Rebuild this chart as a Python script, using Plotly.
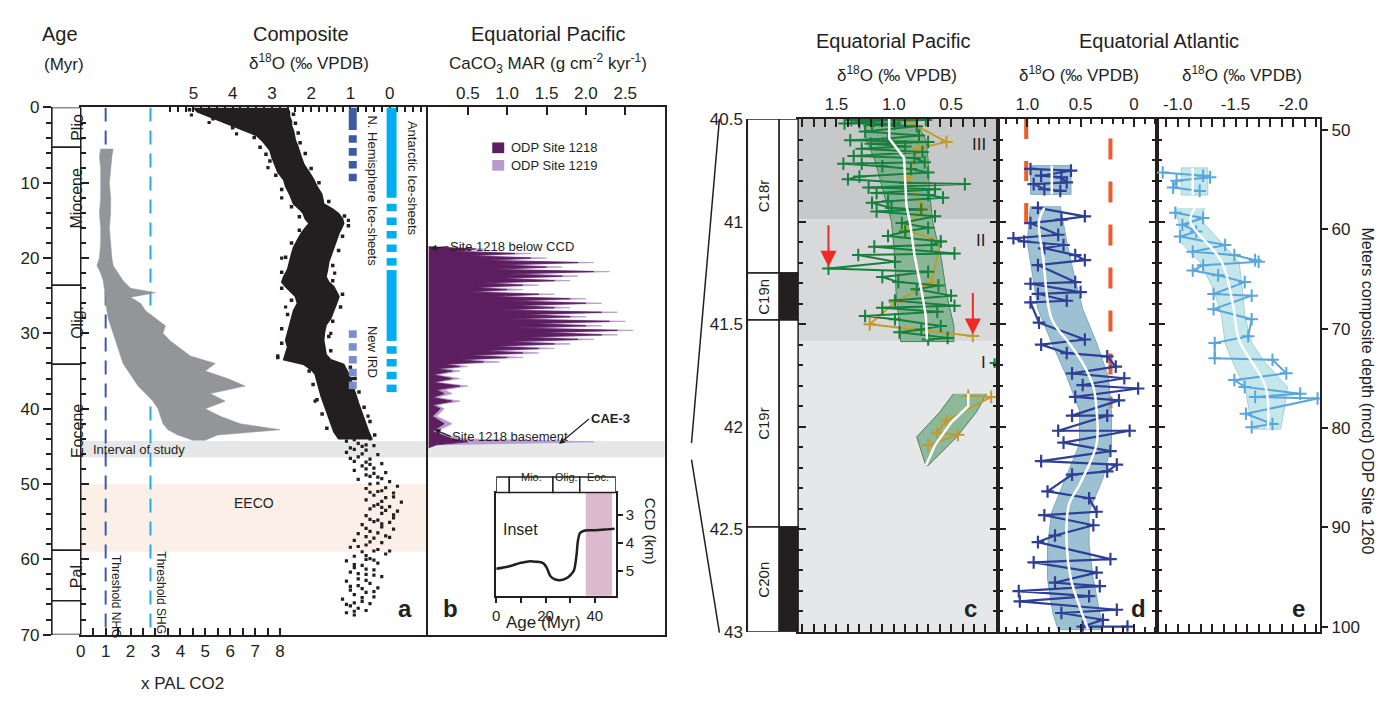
import plotly.graph_objects as go

W, H = 1368, 693       # figure size (page body adds an 8 px margin)
OX, OY = 8, 8
FONT = "Arial, Liberation Sans, Helvetica, sans-serif"
INK = "#231f20"

# ======================= DATA =======================
# Geological epochs (Myr)
epoch_edges = [0.0, 5.3, 23.6, 34.1, 58.8, 65.5, 70.0]
epoch_names = ["Plio", "Miocene", "Olig.", "Eocene", "Pal.", ""]
epoch_label_age = [2.6, 12.0, 28.5, 43.0, 62.0, 67.7]

# Composite benthic d18O: bounds of the dense data cloud (per mil)
d18o_age = [0, 0.6, 1.2, 1.8, 2.4, 3.1, 3.7, 4.4, 5.0, 5.7,
            6.6, 7.6, 8.6, 9.6, 10.5, 11.5, 12.2, 12.8, 13.5, 14.1,
            14.8, 15.4, 16.0, 16.7, 17.6, 18.6, 19.5, 20.5, 21.5, 22.5,
            23.2, 23.8, 24.5, 25.1, 26.0, 27.0, 28.0, 28.9, 29.9, 30.9,
            31.8, 32.8, 33.5, 34.1, 34.8, 35.4, 36.4, 37.3, 38.3, 39.3,
            40.2, 41.2, 42.1, 43.1, 44.0]
d18o_heavy = [5.0, 4.9, 4.6, 4.3, 4.0, 3.7, 3.4, 3.25, 3.15, 3.05,
              3.0, 2.92, 2.85, 2.7, 2.65, 2.55, 2.5, 2.45, 2.3, 2.2,
              2.15, 2.05, 2.15, 2.25, 2.35, 2.45, 2.5, 2.55, 2.6, 2.7,
              2.75, 2.65, 2.5, 2.4, 2.35, 2.45, 2.5, 2.55, 2.6, 2.65,
              2.6, 2.65, 2.7, 2.2, 2.0, 1.9, 1.85, 1.8, 1.75, 1.68,
              1.62, 1.55, 1.5, 1.42, 1.3]
d18o_light = [2.6, 2.55, 2.55, 2.5, 2.5, 2.45, 2.42, 2.4, 2.35, 2.3,
              2.25, 2.18, 2.05, 1.93, 1.85, 1.73, 1.7, 1.68, 1.45, 1.3,
              1.2, 1.17, 1.22, 1.29, 1.35, 1.42, 1.48, 1.55, 1.58, 1.62,
              1.55, 1.42, 1.35, 1.29, 1.35, 1.42, 1.5, 1.62, 1.66, 1.68,
              1.65, 1.62, 1.5, 1.17, 1.1, 1.04, 0.98, 0.91, 0.85, 0.79,
              0.74, 0.66, 0.6, 0.53, 0.45]
# scattered points along the fuzzy edges of the cloud
d18o_edge_age = [0.3, 1.5, 2.7, 4.0, 5.3, 6.2, 7.1, 9.0, 10.9, 13.2,
                 14.5, 16.3, 18.0, 19.9, 21.9, 24.0, 25.6, 27.5, 29.4, 31.3,
                 33.2, 35.0, 36.8, 38.8, 40.7, 42.6,
                 0.9, 2.1, 3.4, 4.7, 6.1, 8.1, 10.0, 12.5, 14.4, 15.7,
                 17.1, 19.0, 21.0, 23.0, 24.8, 26.5, 28.4, 30.4, 32.3, 34.5,
                 36.0, 37.8, 39.8, 41.7, 43.5]
d18o_edge_val = [5.1, 4.5, 4.0, 3.45, 3.3, 3.15, 3.05, 2.9, 2.75, 2.5,
                 2.3, 2.3, 2.5, 2.65, 2.75, 2.75, 2.5, 2.6, 2.75, 2.75,
                 2.85, 2.05, 1.95, 1.85, 1.72, 1.6,
                 2.45, 2.4, 2.33, 2.28, 2.15, 2.0, 1.8, 1.55, 1.15, 1.05,
                 1.2, 1.3, 1.45, 1.45, 1.2, 1.25, 1.45, 1.55, 1.5, 1.0,
                 0.88, 0.78, 0.65, 0.5, 0.38]
# individual composite points (outliers and the sparser Eocene-Paleocene part)
d18o_pts_age = [1.0, 2.0, 3.5, 8.0, 12.0, 15.0, 20.0, 22.0, 26.5, 30.0,
                33.0, 36.0, 39.0, 41.0,
                42.2, 42.5, 42.8, 43.1, 43.4, 43.7, 44.0, 44.3, 44.6, 44.9,
                45.2, 45.5, 45.8, 46.1, 46.4, 46.7, 47.0, 47.3, 47.6, 47.9,
                48.2, 48.5, 48.8, 49.1, 49.4, 49.7, 50.0, 50.3, 50.6, 50.9,
                51.2, 51.5, 51.8, 52.1, 52.4, 52.7, 53.0, 53.3, 53.6, 53.9,
                54.2, 54.5, 54.8, 55.1, 55.4, 55.7, 56.0, 56.3, 56.6, 56.9,
                57.2, 57.5, 57.8, 58.1, 58.4, 58.7, 59.0, 59.3, 59.6, 59.9,
                60.2, 60.5, 60.8, 61.1, 61.4, 61.7, 62.0, 62.3, 62.6, 62.9,
                63.2, 63.5, 63.8, 64.1, 64.4, 64.7, 65.0, 65.3, 65.6, 65.9,
                66.2, 66.5, 66.8, 67.1, 67.4,
                43.0, 45.0, 47.1, 49.0, 51.0, 53.1, 55.0, 57.0, 58.9, 60.0,
                61.9, 63.9, 65.8,
                44.1, 44.8, 45.4, 46.0, 46.6, 47.4, 48.0, 48.6, 49.3, 49.9,
                50.5, 51.1, 51.7, 52.3, 52.9, 53.5, 54.1, 54.7, 55.3, 55.9,
                56.5, 57.1, 57.7, 58.3, 58.9, 59.5, 60.1, 60.7, 61.3, 62.1,
                62.8, 63.6, 64.3, 65.1, 66.0, 66.9]
d18o_pts_val = [5.05, 4.6, 3.9, 3.1, 2.75, 1.05, 2.75, 1.4, 2.65, 1.5,
                2.85, 0.95, 1.9, 0.55,
                1.2, 0.7, 1.0, 0.6, 1.3, 0.9, 0.5, 1.1, 0.8, 0.4,
                1.0, 0.6, 1.1, 0.3, 0.8, 0.5, 0.9, 0.2, 0.7, 0.4,
                0.9, 0.1, 0.6, 0.3, 0.8, 0.0, 0.5, -0.2, 0.6, 0.2,
                -0.1, 0.4, 0.1, 0.6, -0.3, 0.3, 0.0, 0.5, -0.2, 0.2,
                0.6, -0.1, 0.3, 0.0, 0.7, 0.2, -0.1, 0.5, 0.8, 0.1,
                0.4, 0.9, 0.2, 0.6, 1.0, 0.3, 0.7, 0.1, 0.9, 0.5,
                1.1, 0.3, 0.7, 0.9, 0.4, 1.0, 0.6, 0.2, 0.8, 1.1,
                0.5, 0.8, 0.3, 1.0, 0.6, 0.9, 0.4, 1.2, 0.7, 0.5,
                1.0, 0.8, 0.6, 1.1, 0.9,
                0.9, 0.7, 0.6, 0.5, 0.3, 0.2, 0.4, 0.6, 0.4, 0.6,
                0.8, 0.7, 0.9,
                0.9, 0.6, 0.9, 0.7, 1.0, 0.5, 0.6, 0.4, 0.2, 0.3,
                0.1, 0.5, -0.1, 0.2, 0.4, 0.1, -0.1, 0.5, 0.2, 0.6,
                0.3, 0.0, 0.5, 0.8, 0.0, 0.6, 0.4, 0.9, 0.6, 0.4,
                0.6, 1.0, 0.4, 0.7, 1.1, 0.9]

# Atmospheric CO2 (x PAL) envelope
co2_age = [5.5, 6.5, 8, 10, 12, 14, 16, 18, 20, 21,
           22, 23, 24, 24.6, 25.2, 26, 27, 28, 29, 30,
           31, 32, 33, 34, 35, 36, 37, 38, 39, 40,
           41, 42, 42.8, 43.5, 44.2]
co2_low = [0.8, 0.75, 0.8, 0.8, 0.8, 0.75, 0.8, 0.8, 0.75, 0.65,
           0.8, 0.9, 0.95, 1.0, 1.0, 1.0, 1.05, 1.1, 1.2, 1.3,
           1.4, 1.5, 1.6, 1.7, 1.9, 2.1, 2.3, 2.6, 2.9, 3.1,
           3.2, 3.3, 3.5, 3.9, 4.5]
co2_high = [1.3, 1.25, 1.2, 1.15, 1.2, 1.2, 1.15, 1.2, 1.25, 1.3,
            1.5, 1.7, 2.0, 3.0, 2.0, 2.4, 2.6, 3.0, 3.4, 3.3,
            3.6, 4.0, 4.4, 5.4, 5.0, 5.9, 6.6, 5.2, 5.8, 5.0,
            5.6, 6.4, 8.0, 5.5, 5.0]
nhg_threshold = 1.0
shg_threshold = 2.8

# Ice-sheet bars (Myr)
nhg_segments = [(0.0, 3.0), (3.7, 4.7), (5.4, 6.4), (7.1, 8.1), (8.8, 9.8)]
ird_segments = [(29.6, 30.6), (31.3, 32.3), (33.0, 34.0), (34.7, 35.7), (36.4, 37.4)]
ant_segments = [(0.0, 12.0), (12.8, 13.8), (14.6, 15.6), (16.4, 17.4), (18.2, 19.2),
                (20.0, 21.0), (21.6, 31.0), (31.7, 32.7), (33.4, 34.4), (35.1, 36.1),
                (36.8, 37.8)]

study_band = (44.3, 46.5)
eeco_band = (50.0, 59.0)

# Panel b: CaCO3 MAR (g cm-2 kyr-1)
mar_age = [18.5, 18.8, 19.1, 19.4, 19.7, 20.0, 20.3, 20.6, 20.9, 21.2,
           21.5, 21.8, 22.1, 22.4, 22.7, 23.0, 23.3, 23.6, 23.9, 24.2,
           24.5, 24.8, 25.1, 25.4, 25.7, 26.0, 26.3, 26.6, 26.9, 27.2,
           27.5, 27.8, 28.1, 28.4, 28.7, 29.0, 29.3, 29.6, 29.9, 30.2,
           30.5, 30.8, 31.1, 31.4, 31.7, 32.0, 32.3, 32.6, 32.9, 33.2,
           33.5, 33.8, 34.1, 34.4, 34.7, 35.0, 35.5, 36.0, 36.5, 37.0,
           37.5, 38.0, 38.5, 39.0, 39.5, 40.0, 41.0, 42.0, 43.0, 44.0,
           44.4, 44.8, 45.2]
site1218_mar = [0.0, 0.6, 0.3, 1.1, 0.5, 1.3, 0.7, 1.9, 0.9, 1.5,
                0.8, 2.1, 1.0, 1.7, 0.9, 1.6, 0.7, 1.2, 0.6, 1.0,
                0.5, 1.4, 0.8, 1.8, 1.0, 2.0, 1.1, 1.6, 0.9, 2.2,
                1.2, 1.8, 1.0, 2.3, 1.3, 2.0, 1.1, 2.4, 1.4, 2.2,
                1.2, 1.9, 1.0, 1.6, 0.8, 1.4, 0.7, 1.2, 0.5, 1.0,
                0.4, 0.7, 0.2, 0.4, 0.1, 0.3, 0.05, 0.3, 0.05, 0.4,
                0.1, 0.2, 0.05, 0.3, 0.05, 0.15, 0.05, 0.2, 0.05, 0.3,
                0.5, 0.1, 0.0]
site1219_mar = [0.0, 0.7, 0.4, 1.3, 0.6, 1.5, 0.8, 2.1, 1.0, 1.7,
                0.9, 2.3, 1.2, 1.9, 1.0, 1.8, 0.8, 1.4, 0.7, 1.2,
                0.6, 1.6, 0.9, 2.0, 1.2, 2.2, 1.3, 1.8, 1.0, 2.4,
                1.4, 2.0, 1.2, 2.5, 1.5, 2.2, 1.3, 2.6, 1.6, 2.4,
                1.4, 2.1, 1.2, 1.8, 1.0, 1.6, 0.9, 1.4, 0.7, 1.2,
                0.5, 0.9, 0.3, 0.5, 0.2, 0.4, 0.1, 0.4, 0.1, 0.5,
                0.2, 0.3, 0.1, 0.4, 0.1, 0.2, 0.1, 0.3, 0.1, 0.4,
                2.1, 0.1, 0.0]

# Inset: CCD (km) vs age
ccd_age = [0, 5, 10, 13, 16, 19, 20.5, 22, 24, 27, 29, 30.5, 31.5, 32.5, 33.2, 34, 36, 40, 45, 48]
ccd_km = [4.93, 4.85, 4.72, 4.67, 4.68, 4.73, 4.9, 5.2, 5.32, 5.33, 5.25, 5.12, 5.0, 4.5, 3.9, 3.65, 3.56, 3.55, 3.52, 3.5]
inset_epoch_edges = [0, 5.3, 23.0, 33.9, 48.5]
inset_epoch_names = ["", "Mio.", "Olig.", "Eoc."]
inset_pink = (36.3, 47.0)

# Magnetochrons and zones (Myr)
chron_edges = [40.5, 41.25, 41.48, 42.49, 43.0]
chron_names = ["C18r", "C19n", "C19r", "C20n"]
chron_normal = [False, True, False, True]
zone_edges = [40.5, 40.99, 41.585, 43.0]
zone_names = ["III", "II", "I"]

# Panel c: Equatorial Pacific d18O
c_green_age = [40.501, 40.504, 40.504, 40.508, 40.515, 40.521, 40.521, 40.529, 40.535, 40.560,
               40.580, 40.595, 40.603, 40.611, 40.620, 40.633, 40.644, 40.660, 40.680, 40.690,
               40.710, 40.718, 40.718, 40.730, 40.743, 40.760, 40.780, 40.793, 40.810, 40.817,
               40.834, 40.842, 40.860, 40.870, 40.883, 40.900, 40.908, 40.933, 40.941, 40.950,
               40.974, 41.007, 41.030, 41.048, 41.070, 41.097, 41.114, 41.122, 41.155, 41.163,
               41.196, 41.229, 41.245, 41.270, 41.295, 41.311, 41.330, 41.361, 41.385, 41.410,
               41.420, 41.440, 41.460, 41.476, 41.509, 41.526, 41.540, 41.567, 41.575]
c_green_d18o = [0.96, 1.37, 0.72, 1.17, 1.30, 1.43, 0.99, 1.19, 0.80, 1.25,
                0.78, 1.05, 1.38, 0.70, 1.20, 0.90, 1.28, 0.75, 1.35, 0.82,
                0.73, 1.28, 1.44, 1.10, 0.85, 0.70, 1.30, 1.40, 0.90, 0.38,
                1.22, 0.64, 1.15, 0.70, 0.57, 1.05, 1.19, 1.02, 0.76, 1.15,
                0.64, 0.93, 0.70, 0.90, 1.05, 0.59, 0.67, 1.17, 0.47, 1.31,
                0.99, 1.57, 0.70, 1.10, 0.96, 0.61, 0.80, 0.50, 0.99, 0.47,
                1.10, 0.62, 1.25, 0.99, 0.59, 0.76, 0.95, 0.53, 0.70]
c_green_iso_age = [41.69]
c_green_iso_d18o = [0.12]
c_gold_age = [40.504, 40.611, 40.644, 40.784, 40.933, 41.040, 41.097, 41.295, 41.394, 41.501, 41.558,
              None, 41.850, 41.855, 41.970, 42.030, 42.040, 42.090]
c_gold_d18o = [0.90, 0.54, 0.79, 0.88, 0.75, 0.90, 0.59, 0.67, 0.99, 1.21, 0.31,
               None, 0.35, 0.15, 0.54, 0.62, 0.44, 0.70]
c_band_age = [40.50, 40.60, 40.70, 40.85, 41.00, 41.18, 41.35, 41.51, 41.585]
c_band_left = [1.27, 1.24, 1.165, 1.09, 1.02, 0.99, 0.98, 0.95, 0.94]
c_band_right = [0.82, 0.72, 0.70, 0.69, 0.66, 0.585, 0.54, 0.475, 0.475]
c_band2_age = [41.84, 41.93, 42.05, 42.19]
c_band2_left = [0.48, 0.60, 0.80, 0.72]
c_band2_right = [0.19, 0.28, 0.45, 0.70]
c_mean_age = [40.50, 40.595, 40.69, 40.92, 41.00, 41.16, 41.33, 41.46, 41.575]
c_mean_d18o = [1.04, 1.04, 0.91, 0.89, 0.86, 0.82, 0.76, 0.72, 0.71]
c_mean2_age = [41.84, 41.90, 41.98, 42.09, 42.19]
c_mean2_d18o = [0.35, 0.35, 0.50, 0.64, 0.72]
c_arrow_ages = [41.23, 41.56]
c_arrow_d18o = [1.57, 0.31]

# Panel d: Equatorial Atlantic benthic d18O
d_age = [40.743, 40.751, 40.776, 40.784, 40.809, 40.817, 40.842, 40.850, None,
         40.933, 40.974, 40.990, 41.007, 41.064, 41.081, 41.097, 41.114, 41.130, 41.163,
         41.188, 41.212, 41.295, 41.303, 41.344, 41.352, 41.386, 41.394, 41.493, 41.575,
         41.600, 41.641, 41.657, 41.707, 41.740, 41.764, 41.797, 41.814, 41.855, 41.872,
         41.946, 41.946, 42.020, 42.020, 42.078, 42.119, 42.168, 42.185, 42.218, 42.234,
         42.316, 42.349, 42.415, 42.432, 42.481, 42.531, 42.563, 42.646, 42.662, 42.712,
         42.761, 42.778, 42.802, 42.827, 42.852, 42.893, 42.909, 42.942, 42.975, 42.975]
d_d18o = [0.97, 0.59, 0.87, 0.68, 0.63, 0.94, 0.84, 0.69, None,
          0.90, 0.46, 0.68, 0.97, 0.71, 1.13, 1.03, 0.66, 0.84, 0.55,
          0.46, 0.90, 0.55, 0.97, 0.50, 0.90, 0.63, 0.97, 0.89, 0.46,
          0.87, 0.63, 0.25, 0.17, 0.58, 0.09, 0.48, -0.04, 0.55, 0.14,
          0.58, 0.25, 0.71, 0.04, 0.66, 0.22, 0.87, 0.16, 0.25, 0.58,
          0.81, 0.42, 0.35, 0.84, 0.38, 0.74, 0.90, 0.22, 0.94, 0.35,
          0.74, 0.32, 1.08, 0.42, 1.07, 0.16, 0.68, 0.29, 0.48, 0.06]
d_box_age = [40.727, 40.867]
d_box_d18o = [0.97, 0.59]
d_box_mean = 0.77
d_band_age = [40.924, 41.097, 41.262, 41.427, 41.591, 41.756, 41.921, 42.086, 42.251, 42.415,
              42.580, 42.745, 42.910, 42.990]
d_band_left = [0.97, 1.00, 0.95, 0.90, 0.77, 0.63, 0.51, 0.51, 0.64, 0.77,
               0.81, 0.81, 0.76, 0.71]
d_band_right = [0.69, 0.63, 0.56, 0.48, 0.35, 0.24, 0.21, 0.21, 0.29, 0.42,
                0.42, 0.38, 0.32, 0.29]
d_mean_age = [40.933, 40.998, 41.18, 41.476, 41.591, 41.69, 41.806, 41.921, 42.086, 42.283,
              42.382, 42.58, 42.745, 42.876, 42.988]
d_mean_d18o = [0.84, 0.89, 0.85, 0.77, 0.61, 0.48, 0.38, 0.35, 0.35, 0.51,
               0.61, 0.63, 0.59, 0.51, 0.43]
d_red_left = (1.01, 40.5, 41.015)
d_red_right = (0.22, 40.595, 41.91)

# Panel e: Equatorial Atlantic (second record)
e_age = [40.760, 40.776, 40.784, 40.800, 40.834, 40.850, None,
         40.957, 40.982, 41.015, 41.048, 41.073, 41.114, 41.147, 41.163, 41.188, 41.196,
         41.213, 41.238, 41.262, 41.295, 41.353, 41.361, 41.427, 41.476, 41.559, 41.592,
         41.666, 41.674, 41.740, 41.773, 41.806, 41.839, 41.855, 41.863, 41.937, 41.987, 42.003]
e_d18o = [-0.87, -1.22, -1.28, -0.99, -0.96, -1.19, None,
          -0.98, -1.22, -1.04, -1.16, -1.02, -1.41, -1.13, -1.49, -1.67, -1.70,
          -1.22, -1.13, -1.35, -1.58, -1.31, -1.64, -1.31, -1.64, -1.61, -1.32,
          -1.32, -1.82, -1.94, -1.49, -1.58, -2.06, -1.67, -2.21, -1.59, -1.82, -1.64]
e_box_age = [40.738, 40.870]
e_box_d18o = [-1.03, -1.26]
e_box_mean = -1.13
e_band_age = [40.933, 40.999, 41.097, 41.196, 41.328, 41.46, 41.592, 41.69, 41.806, 41.921, 42.012]
e_band_left = [-0.97, -1.01, -1.02, -1.19, -1.31, -1.38, -1.41, -1.48, -1.58, -1.62, -1.65]
e_band_right = [-1.23, -1.21, -1.37, -1.53, -1.56, -1.58, -1.64, -1.76, -1.95, -1.92, -1.89]
e_mean_age = [40.933, 40.999, 41.196, 41.41, 41.575, 41.806, 42.012]
e_mean_d18o = [-1.15, -1.11, -1.38, -1.48, -1.53, -1.76, -1.78]


# ======================= HELPERS =======================
def fx(p):
    return (p - OX) / W


def fy(p):
    return 1 - (p - OY) / H


def xdom(a, b):
    return [fx(a), fx(b)]


def ydom(top, bot):
    return [fy(bot), fy(top)]


shapes = []
annotations = []


def ann(text, x, y, size=13, angle=0, xanchor="center", yanchor="middle", color=INK):
    annotations.append(dict(text=text, x=fx(x), y=fy(y), xref="paper", yref="paper",
                            showarrow=False, textangle=angle, xanchor=xanchor, yanchor=yanchor,
                            font=dict(family=FONT, size=size, color=color)))


def rect(x0, x1, y0, y1, xref, yref, fill, line_color=None, lw=0, layer="below"):
    shapes.append(dict(type="rect", x0=x0, x1=x1, y0=y0, y1=y1, xref=xref, yref=yref,
                       fillcolor=fill, layer=layer,
                       line=dict(color=line_color or fill, width=lw)))


def line(x0, y0, x1, y1, xref, yref, color=INK, width=1.5, dash=None, layer="above"):
    d = dict(color=color, width=width)
    if dash:
        d["dash"] = dash
    shapes.append(dict(type="line", x0=x0, y0=y0, x1=x1, y1=y1, xref=xref, yref=yref,
                       line=d, layer=layer))


def ghost(xa, ya, xv, yv):
    # invisible point so that a label-only axis gets drawn
    fig.add_trace(go.Scatter(x=[xv], y=[yv], xaxis=xa, yaxis=ya, mode="markers",
                             marker=dict(opacity=0, size=1), hoverinfo="skip", showlegend=False))


fig = go.Figure()

# ======================= PANEL a =======================
fig.add_trace(go.Scatter(x=co2_low + co2_high[::-1], y=co2_age + co2_age[::-1],
                         xaxis="x2", yaxis="y", fill="toself", fillcolor="#939598",
                         line=dict(color="#939598", width=0.5), mode="lines",
                         hoverinfo="skip", showlegend=False))
fig.add_trace(go.Scatter(x=d18o_heavy + d18o_light[::-1], y=d18o_age + d18o_age[::-1],
                         xaxis="x", yaxis="y", fill="toself", fillcolor=INK,
                         line=dict(color=INK, width=1.5), mode="lines",
                         hoverinfo="skip", showlegend=False))
fig.add_trace(go.Scatter(x=d18o_edge_val, y=d18o_edge_age, xaxis="x", yaxis="y",
                         mode="markers", marker=dict(color=INK, size=3.5, symbol="square"),
                         showlegend=False))
fig.add_trace(go.Scatter(x=d18o_pts_val, y=d18o_pts_age, xaxis="x", yaxis="y",
                         mode="markers", marker=dict(color=INK, size=3.2, symbol="square"),
                         showlegend=False))
ghost("x", "y2", 3, 35)

# thresholds
line(nhg_threshold, 0, nhg_threshold, 70, "x2", "y", color="#3c5aa6", width=2, dash="14px,9px", layer="below")
line(shg_threshold, 0, shg_threshold, 70, "x2", "y", color="#27aae1", width=2, dash="14px,9px", layer="below")

# bands
rect(fx(76), fx(662), study_band[0], study_band[1], "paper", "y", "#e6e7e8")
rect(fx(76), fx(425), eeco_band[0], eeco_band[1], "paper", "y", "#fcefe7")

# ice-sheet bars
for a0, a1 in nhg_segments:
    rect(fx(345), fx(353), a0, a1, "paper", "y", "#3c5aa6", layer="above")
for a0, a1 in ird_segments:
    rect(fx(345), fx(353), a0, a1, "paper", "y", "#7b8fcf", layer="above")
for a0, a1 in ant_segments:
    rect(fx(383), fx(393), a0, a1, "paper", "y", "#00aeef", layer="above")

# epoch column
for i, name in enumerate(epoch_names):
    rect(fx(47), fx(76), epoch_edges[i], epoch_edges[i + 1], "paper", "y", "white",
         line_color=INK, lw=1.5, layer="above")
    if name:
        annotations.append(dict(text=name, x=fx(61.5), y=epoch_label_age[i],
                                xref="paper", yref="y", showarrow=False, textangle=-90,
                                font=dict(family=FONT, size=16, color=INK)))

# ======================= PANEL b =======================
fig.add_trace(go.Scatter(x=site1219_mar, y=mar_age, xaxis="x3", yaxis="y3", fill="tozerox",
                         fillcolor="#b79bcc", line=dict(color="#b79bcc", width=0.8),
                         mode="lines", showlegend=False))
fig.add_trace(go.Scatter(x=site1218_mar, y=mar_age, xaxis="x3", yaxis="y3", fill="tozerox",
                         fillcolor="#5c1e5e", line=dict(color="#5c1e5e", width=0.8),
                         mode="lines", showlegend=False))
# legend
rect(fx(489), fx(501), fy(148), fy(137), "paper", "paper", "#5c1e5e", layer="above")
rect(fx(489), fx(501), fy(166), fy(155), "paper", "paper", "#b79bcc", layer="above")
ann("ODP Site 1218", 506, 142, size=13, xanchor="left")
ann("ODP Site 1219", 506, 161, size=13, xanchor="left")

# arrows / notes
annotations.append(dict(text="Site 1218 below CCD", x=fx(427), y=fy(246), xref="paper", yref="paper",
                        showarrow=True, ax=18, ay=-2, xanchor="left", arrowhead=2, arrowsize=1,
                        arrowwidth=1.2, arrowcolor=INK, font=dict(family=FONT, size=13, color=INK)))
annotations.append(dict(text="<b>CAE-3</b>", x=fx(556), y=fy(447), xref="paper", yref="paper",
                        showarrow=True, ax=30, ay=-25, xanchor="left", arrowhead=2, arrowsize=1,
                        arrowwidth=1.2, arrowcolor=INK, font=dict(family=FONT, size=13, color=INK)))
annotations.append(dict(text="Site 1218 basement", x=fx(431), y=fy(432), xref="paper", yref="paper",
                        showarrow=True, ax=16, ay=7, xanchor="left", arrowhead=2, arrowsize=1,
                        arrowwidth=1.2, arrowcolor=INK, font=dict(family=FONT, size=13, color=INK)))

# inset
fig.add_trace(go.Scatter(x=ccd_age, y=ccd_km, xaxis="x4", yaxis="y4", mode="lines",
                         line=dict(color=INK, width=2.5, shape="spline"), showlegend=False))
rect(inset_pink[0], inset_pink[1], 0, 1, "x4", "y4 domain", "#dcb9cc")
for i, nm in enumerate(inset_epoch_names):
    rect(inset_epoch_edges[i], inset_epoch_edges[i + 1], fy(497), fy(481), "x4", "paper", "white",
         line_color=INK, lw=1.5, layer="above")
    if nm:
        annotations.append(dict(text=nm, x=(inset_epoch_edges[i] + inset_epoch_edges[i + 1]) / 2,
                                y=fy(489), xref="x4", yref="paper", showarrow=False,
                                font=dict(family=FONT, size=11, color=INK)))
ann("Inset", 498, 535, size=16, xanchor="left")
ann("Age (Myr)", 540, 631, size=17)
ann("CCD (km)", 648, 537, size=15, angle=90)

# ======================= PANELS c, d, e =======================
zone_cols = ["#c7c8ca", "#d8d9db", "#e6e7e8"]
for i in range(3):
    rect(0, 1, zone_edges[i], zone_edges[i + 1], "x5 domain", "y5", zone_cols[i])

fig.add_trace(go.Scatter(x=c_band_left + c_band_right[::-1], y=c_band_age + c_band_age[::-1],
                         xaxis="x5", yaxis="y5", fill="toself", fillcolor="rgba(110,170,128,0.75)",
                         line=dict(color="#4f7f5d", width=1), mode="lines", showlegend=False))
fig.add_trace(go.Scatter(x=c_band2_left + c_band2_right[::-1], y=c_band2_age + c_band2_age[::-1],
                         xaxis="x5", yaxis="y5", fill="toself", fillcolor="rgba(110,170,128,0.75)",
                         line=dict(color="#4f7f5d", width=1), mode="lines", showlegend=False))
fig.add_trace(go.Scatter(x=c_gold_d18o, y=c_gold_age, xaxis="x5", yaxis="y5", mode="lines+markers",
                         line=dict(color="#c49a2c", width=2),
                         marker=dict(symbol="cross-thin", size=9, line=dict(width=2, color="#c49a2c")),
                         showlegend=False, connectgaps=False))
fig.add_trace(go.Scatter(x=c_green_d18o, y=c_green_age, xaxis="x5", yaxis="y5", mode="lines+markers",
                         line=dict(color="#17803d", width=2),
                         marker=dict(symbol="cross-thin", size=9, line=dict(width=2, color="#17803d")),
                         showlegend=False))
fig.add_trace(go.Scatter(x=c_green_iso_d18o, y=c_green_iso_age, xaxis="x5", yaxis="y5", mode="markers",
                         marker=dict(symbol="cross-thin", size=7, line=dict(width=2, color="#17803d")),
                         showlegend=False))
fig.add_trace(go.Scatter(x=c_mean_d18o, y=c_mean_age, xaxis="x5", yaxis="y5", mode="lines",
                         line=dict(color="white", width=2.5), showlegend=False))
fig.add_trace(go.Scatter(x=c_mean2_d18o, y=c_mean2_age, xaxis="x5", yaxis="y5", mode="lines",
                         line=dict(color="white", width=2.5), showlegend=False))
ghost("x5", "y6", 1.0, 41.0)
for a, v in zip(c_arrow_ages, c_arrow_d18o):
    annotations.append(dict(text="", x=v, y=a, xref="x5", yref="y5", showarrow=True, ax=0, ay=-45,
                            arrowhead=2, arrowsize=1.6, arrowwidth=2, arrowcolor="#ee2a24",
                            standoff=2))
ann("III", 978, 139, size=17)
ann("II", 979, 238, size=17)
ann("I", 982, 363, size=17)

# d
rect(d_box_d18o[0], d_box_d18o[1], d_box_age[0], d_box_age[1], "x7", "y7", "rgba(130,178,200,0.8)",
     line_color="#7fa9bd", lw=1)
fig.add_trace(go.Scatter(x=d_band_left + d_band_right[::-1], y=d_band_age + d_band_age[::-1],
                         xaxis="x7", yaxis="y7", fill="toself", fillcolor="rgba(130,178,200,0.8)",
                         line=dict(color="#7fa9bd", width=1), mode="lines", showlegend=False))
line(d_red_left[0], d_red_left[1], d_red_left[0], d_red_left[2], "x7", "y7", color="#f15a29",
     width=4, dash="20px,22px", layer="below")
line(d_red_right[0], d_red_right[1], d_red_right[0], d_red_right[2], "x7", "y7", color="#f15a29",
     width=4, dash="21px,22px", layer="below")
fig.add_trace(go.Scatter(x=d_d18o, y=d_age, xaxis="x7", yaxis="y7", mode="lines+markers",
                         line=dict(color="#2e3f95", width=2.2),
                         marker=dict(symbol="cross-thin", size=9, line=dict(width=2.2, color="#2e3f95")),
                         showlegend=False))
fig.add_trace(go.Scatter(x=d_mean_d18o, y=d_mean_age, xaxis="x7", yaxis="y7", mode="lines",
                         line=dict(color="white", width=2.5, shape="spline"), showlegend=False))
fig.add_trace(go.Scatter(x=[d_box_mean, d_box_mean], y=d_box_age, xaxis="x7", yaxis="y7", mode="lines",
                         line=dict(color="white", width=2.5), showlegend=False))

# e
rect(e_box_d18o[0], e_box_d18o[1], e_box_age[0], e_box_age[1], "x8", "y8", "rgba(190,228,234,0.9)",
     line_color="#a9cdd4", lw=1)
fig.add_trace(go.Scatter(x=e_band_left + e_band_right[::-1], y=e_band_age + e_band_age[::-1],
                         xaxis="x8", yaxis="y8", fill="toself", fillcolor="rgba(190,228,234,0.9)",
                         line=dict(color="#a9cdd4", width=1), mode="lines", showlegend=False))
fig.add_trace(go.Scatter(x=e_d18o, y=e_age, xaxis="x8", yaxis="y8", mode="lines+markers",
                         line=dict(color="#5aa6dc", width=2),
                         marker=dict(symbol="cross-thin", size=9, line=dict(width=2, color="#5aa6dc")),
                         showlegend=False))
fig.add_trace(go.Scatter(x=e_mean_d18o, y=e_mean_age, xaxis="x8", yaxis="y8", mode="lines",
                         line=dict(color="white", width=2.5, shape="spline"), showlegend=False))
fig.add_trace(go.Scatter(x=[e_box_mean, e_box_mean], y=e_box_age, xaxis="x8", yaxis="y8", mode="lines",
                         line=dict(color="white", width=2.5), showlegend=False))
ghost("x8", "y9", -1.5, 70)

# chron column
for i, nm in enumerate(chron_names):
    rect(fx(745), fx(777), chron_edges[i], chron_edges[i + 1], "paper", "y5", "white",
         line_color=INK, lw=1.5, layer="above")
    rect(fx(777), fx(796), chron_edges[i], chron_edges[i + 1], "paper", "y5",
         INK if chron_normal[i] else "white", line_color=INK, lw=1.5, layer="above")
    annotations.append(dict(text=nm, x=fx(761), y=(chron_edges[i] + chron_edges[i + 1]) / 2,
                            xref="paper", yref="y5", showarrow=False, textangle=-90,
                            font=dict(family=FONT, size=15, color=INK)))

# connecting lines
line(fx(689), fy(446), fx(717), fy(113), "paper", "paper", width=1.5)
line(fx(689), fy(463), fx(717), fy(641), "paper", "paper", width=1.5)

# ======================= TEXT =======================
ann("Age", 55, 25, size=20)
ann("(Myr)", 59, 57, size=17)
ann("Composite", 297, 25, size=20)
ann("δ<sup>18</sup>O (‰ VPDB)", 305, 54, size=17)
ann("Equatorial Pacific", 545, 25, size=20)
ann("CaCO<sub>3</sub> MAR (g cm<sup>-2</sup> kyr<sup>-1</sup>)", 545, 56, size=17)
ann("Equatorial Pacific", 892, 33, size=20)
ann("δ<sup>18</sup>O (‰ VPDB)", 895, 67, size=17)
ann("Equatorial Atlantic", 1158, 33, size=20)
ann("δ<sup>18</sup>O (‰ VPDB)", 1078, 67, size=17)
ann("δ<sup>18</sup>O (‰ VPDB)", 1242, 67, size=17)
ann("x PAL CO2", 178, 693, size=17)
ann("Meters composite depth (mcd) ODP Site 1260", 1367, 392, size=16, angle=90)
ann("Interval of study", 86, 453, size=13, xanchor="left")
ann("EECO", 250, 508, size=14)
ann("Threshold NHG", 112, 604, size=12, angle=90)
ann("Threshold SHG", 157, 600, size=12, angle=90)
ann("N. Hemisphere Ice-sheets", 369, 187, size=13, angle=90)
ann("Antarctic Ice-sheets", 409, 174, size=13, angle=90)
ann("New IRD", 369, 352, size=13, angle=90)
for lab, xx in [("a", 401), ("b", 447), ("c", 969), ("d", 1138), ("e", 1298)]:
    ann("<b>%s</b>" % lab, xx, 616, size=24)

# ======================= AXES =======================
tf = dict(family=FONT, size=17, color=INK)
base = dict(showgrid=False, zeroline=False, showline=True, linecolor=INK, linewidth=2,
            tickcolor=INK, tickwidth=1.5, tickfont=tf)

A_dom_y = ydom(101, 643)
C_dom_y = ydom(113, 640)
minor_in = dict(ticks="inside", ticklen=5, tickcolor=INK)

top_vals = [v / 5 for v in range(-4, 29)]
layout_axes = dict(
    xaxis=dict(base, domain=xdom(76, 425), range=[7.87, -0.99], side="top", anchor="y",
               tickmode="array", tickvals=top_vals,
               ticktext=[("%d" % round(v) if abs(v - round(v)) < 1e-6 and 0 <= v <= 5 else "") for v in top_vals],
               ticks="inside", ticklen=5),
    xaxis2=dict(base, overlaying="x", range=[0, 13.96], side="bottom", anchor="y",
                tickmode="array", tickvals=[v / 2 for v in range(0, 17)],
                ticktext=[("%d" % (v // 2) if v % 2 == 0 else "") for v in range(0, 17)],
                ticks="inside", ticklen=7),
    yaxis=dict(base, domain=A_dom_y, range=[70, 0], anchor="x", showticklabels=False,
               ticks="inside", dtick=10, ticklen=8, minor=dict(minor_in, dtick=2)),
    yaxis2=dict(base, overlaying="y", anchor="free", position=fx(47), side="left", range=[70, 0],
                ticks="outside", dtick=10, ticklen=8,
                minor=dict(dtick=2, ticks="outside", ticklen=5, tickcolor=INK)),
    xaxis3=dict(base, domain=xdom(425, 662), range=[0, 3.0], side="top", anchor="y3",
                tickmode="array", tickvals=[0.5, 1.0, 1.5, 2.0, 2.5, 3.0],
                ticktext=["0.5", "1.0", "1.5", "2.0", "2.5", ""], ticks="inside", ticklen=8,
                mirror=True),
    yaxis3=dict(base, domain=A_dom_y, range=[70, 0], anchor="x3", matches="y",
                showticklabels=False, ticks="", mirror=True),
    xaxis4=dict(base, domain=xdom(493, 613), range=[0, 48.5], anchor="y4", side="bottom",
                tickmode="array", tickvals=[0, 10, 20, 30, 40], ticktext=["0", "", "20", "", "40"],
                ticks="outside", ticklen=5, mirror=True, tickfont=dict(family=FONT, size=15, color=INK)),
    yaxis4=dict(base, domain=ydom(497, 603), range=[5.9, 2.2], anchor="x4", side="right",
                tickvals=[3, 4, 5], ticks="outside", ticklen=5, mirror=True,
                tickfont=dict(family=FONT, size=15, color=INK)),
    xaxis5=dict(base, domain=xdom(796, 997), range=[1.835, 0.087], side="top", anchor="y5",
                tickmode="array", tickvals=[0.5, 1.0, 1.5], ticktext=["0.5", "1.0", "1.5"],
                ticks="inside", ticklen=8, mirror="allticks", minor=dict(minor_in, dtick=0.1)),
    yaxis5=dict(base, domain=C_dom_y, range=[43, 40.5], anchor="x5", showticklabels=False,
                ticks="inside", dtick=0.5, ticklen=8, mirror="allticks", minor=dict(minor_in, dtick=0.1)),
    yaxis6=dict(base, overlaying="y5", anchor="free", position=fx(745), side="left", range=[43, 40.5],
                tickmode="array", tickvals=[40.5, 41, 41.5, 42, 42.5, 43],
                ticktext=["40.5", "41", "41.5", "42", "42.5", "43"],
                ticks="inside", ticklen=8, minor=dict(minor_in, dtick=0.1)),
    xaxis7=dict(base, domain=xdom(997, 1156), range=[1.271, -0.215], side="top", anchor="y7",
                tickmode="array", tickvals=[0, 0.5, 1.0], ticktext=["0", "0.5", "1.0"],
                ticks="inside", ticklen=8, mirror="allticks", minor=dict(minor_in, dtick=0.1)),
    yaxis7=dict(base, domain=C_dom_y, range=[43, 40.5], anchor="x7", matches="y5", showticklabels=False,
                ticks="inside", dtick=0.5, ticklen=8, mirror="allticks", minor=dict(minor_in, dtick=0.1)),
    xaxis8=dict(base, domain=xdom(1156, 1320), range=[-0.819, -2.233], side="top", anchor="y8",
                tickmode="array", tickvals=[-1.0, -1.5, -2.0], ticktext=["-1.0", "-1.5", "-2.0"],
                ticks="inside", ticklen=8, mirror="allticks", minor=dict(minor_in, dtick=0.1)),
    yaxis8=dict(base, domain=C_dom_y, range=[43, 40.5], anchor="x8", matches="y5", showticklabels=False,
                ticks="inside", dtick=0.5, ticklen=8, mirror=True, minor=dict(minor_in, dtick=0.1)),
    yaxis9=dict(base, overlaying="y5", anchor="x8", side="right", range=[100.49, 48.92],
                dtick=10, ticks="outside", ticklen=7, showline=False),
)

fig.update_layout(
    width=W, height=H, margin=dict(l=0, r=0, t=0, b=0),
    paper_bgcolor="white", plot_bgcolor="rgba(0,0,0,0)",
    font=dict(family=FONT, color=INK), showlegend=False,
    shapes=shapes, annotations=annotations, **layout_axes,
)

fig.write_html("out.html")
